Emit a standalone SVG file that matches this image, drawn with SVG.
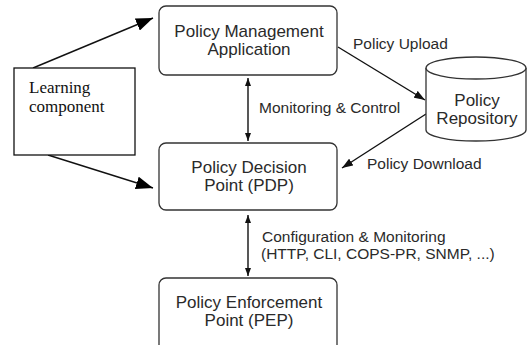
<svg xmlns="http://www.w3.org/2000/svg" width="528" height="345" viewBox="0 0 528 345">
  <style>
    .box { fill: #ffffff; stroke: #333333; stroke-width: 1.3; }
    .lc { fill: #ffffff; stroke: #111111; stroke-width: 1.3; }
    .t { font-family: "Liberation Sans", Arial, sans-serif; font-size: 17px; fill: #2a2a2a; text-anchor: middle; }
    .lbl { font-family: "Liberation Sans", Arial, sans-serif; font-size: 15.5px; fill: #2a2a2a; }
    .serif { font-family: "Liberation Serif", "Times New Roman", serif; font-size: 17px; fill: #111111; }
    .ln { stroke: #111111; stroke-width: 1.4; fill: none; }
  </style>
  <defs>
    <marker id="bigHead" viewBox="0 0 17 13" refX="17" refY="6.5" markerWidth="17" markerHeight="13" markerUnits="userSpaceOnUse" orient="auto">
      <path d="M0,0 L17,6.5 L0,13 Z" fill="#000000"/>
    </marker>
    <marker id="midHead" viewBox="0 0 11 8" refX="11" refY="4" markerWidth="11" markerHeight="8" markerUnits="userSpaceOnUse" orient="auto">
      <path d="M0,0 L11,4 L0,8 Z" fill="#111111"/>
    </marker>
    <marker id="smallHead" viewBox="0 0 8 6" refX="8" refY="3" markerWidth="8" markerHeight="6" markerUnits="userSpaceOnUse" orient="auto-start-reverse">
      <path d="M0,0 L8,3 L0,6 Z" fill="#111111"/>
    </marker>
  </defs>

  <rect width="528" height="345" fill="#ffffff"/>

  <g id="connectors">
    <line class="ln" x1="33" y1="68" x2="153" y2="18" marker-end="url(#bigHead)"/>
    <line class="ln" x1="48" y1="155" x2="153" y2="188" marker-end="url(#bigHead)"/>
    <line class="ln" x1="248" y1="78" x2="248" y2="141" marker-start="url(#smallHead)" marker-end="url(#smallHead)"/>
    <line class="ln" x1="248" y1="215" x2="248" y2="276" marker-start="url(#smallHead)" marker-end="url(#smallHead)"/>
    <line class="ln" x1="338" y1="47" x2="425" y2="100" marker-end="url(#midHead)"/>
    <line class="ln" x1="426" y1="114" x2="342" y2="168" marker-end="url(#midHead)"/>
    <text class="lbl" x="353" y="49">Policy Upload</text>
    <text class="lbl" x="259" y="113">Monitoring &amp; Control</text>
    <text class="lbl" x="367" y="169">Policy Download</text>
    <text class="lbl" x="262" y="242">Configuration &amp; Monitoring</text>
    <text class="lbl" x="261" y="259">(HTTP, CLI, COPS-PR, SNMP, ...)</text>
  </g>

  <g id="learning">
    <rect class="lc" x="14" y="68" width="121" height="87"/>
    <text class="serif" x="29" y="93">Learning</text>
    <text class="serif" x="29" y="112">component</text>
  </g>

  <g id="pma">
    <rect class="box" x="159" y="6" width="178" height="69" rx="7"/>
    <text class="t" x="249" y="37">Policy Management</text>
    <text class="t" x="249" y="55">Application</text>
  </g>

  <g id="pdp">
    <rect class="box" x="159" y="143" width="178" height="67" rx="7"/>
    <text class="t" x="249" y="173">Policy Decision</text>
    <text class="t" x="249" y="191">Point (PDP)</text>
  </g>

  <g id="pep">
    <rect class="box" x="159" y="278" width="178" height="80" rx="7"/>
    <text class="t" x="249" y="308">Policy Enforcement</text>
    <text class="t" x="249" y="326">Point (PEP)</text>
  </g>

  <g id="repository">
    <path class="box" d="M426,68 L426,130 A50,11 0 0 0 526,130 L526,68 A50,11 0 0 0 426,68 Z"/>
    <path class="box" d="M426,68 A50,11 0 0 0 526,68" fill="none"/>
    <text class="t" x="477" y="106">Policy</text>
    <text class="t" x="477" y="124">Repository</text>
  </g>
</svg>
